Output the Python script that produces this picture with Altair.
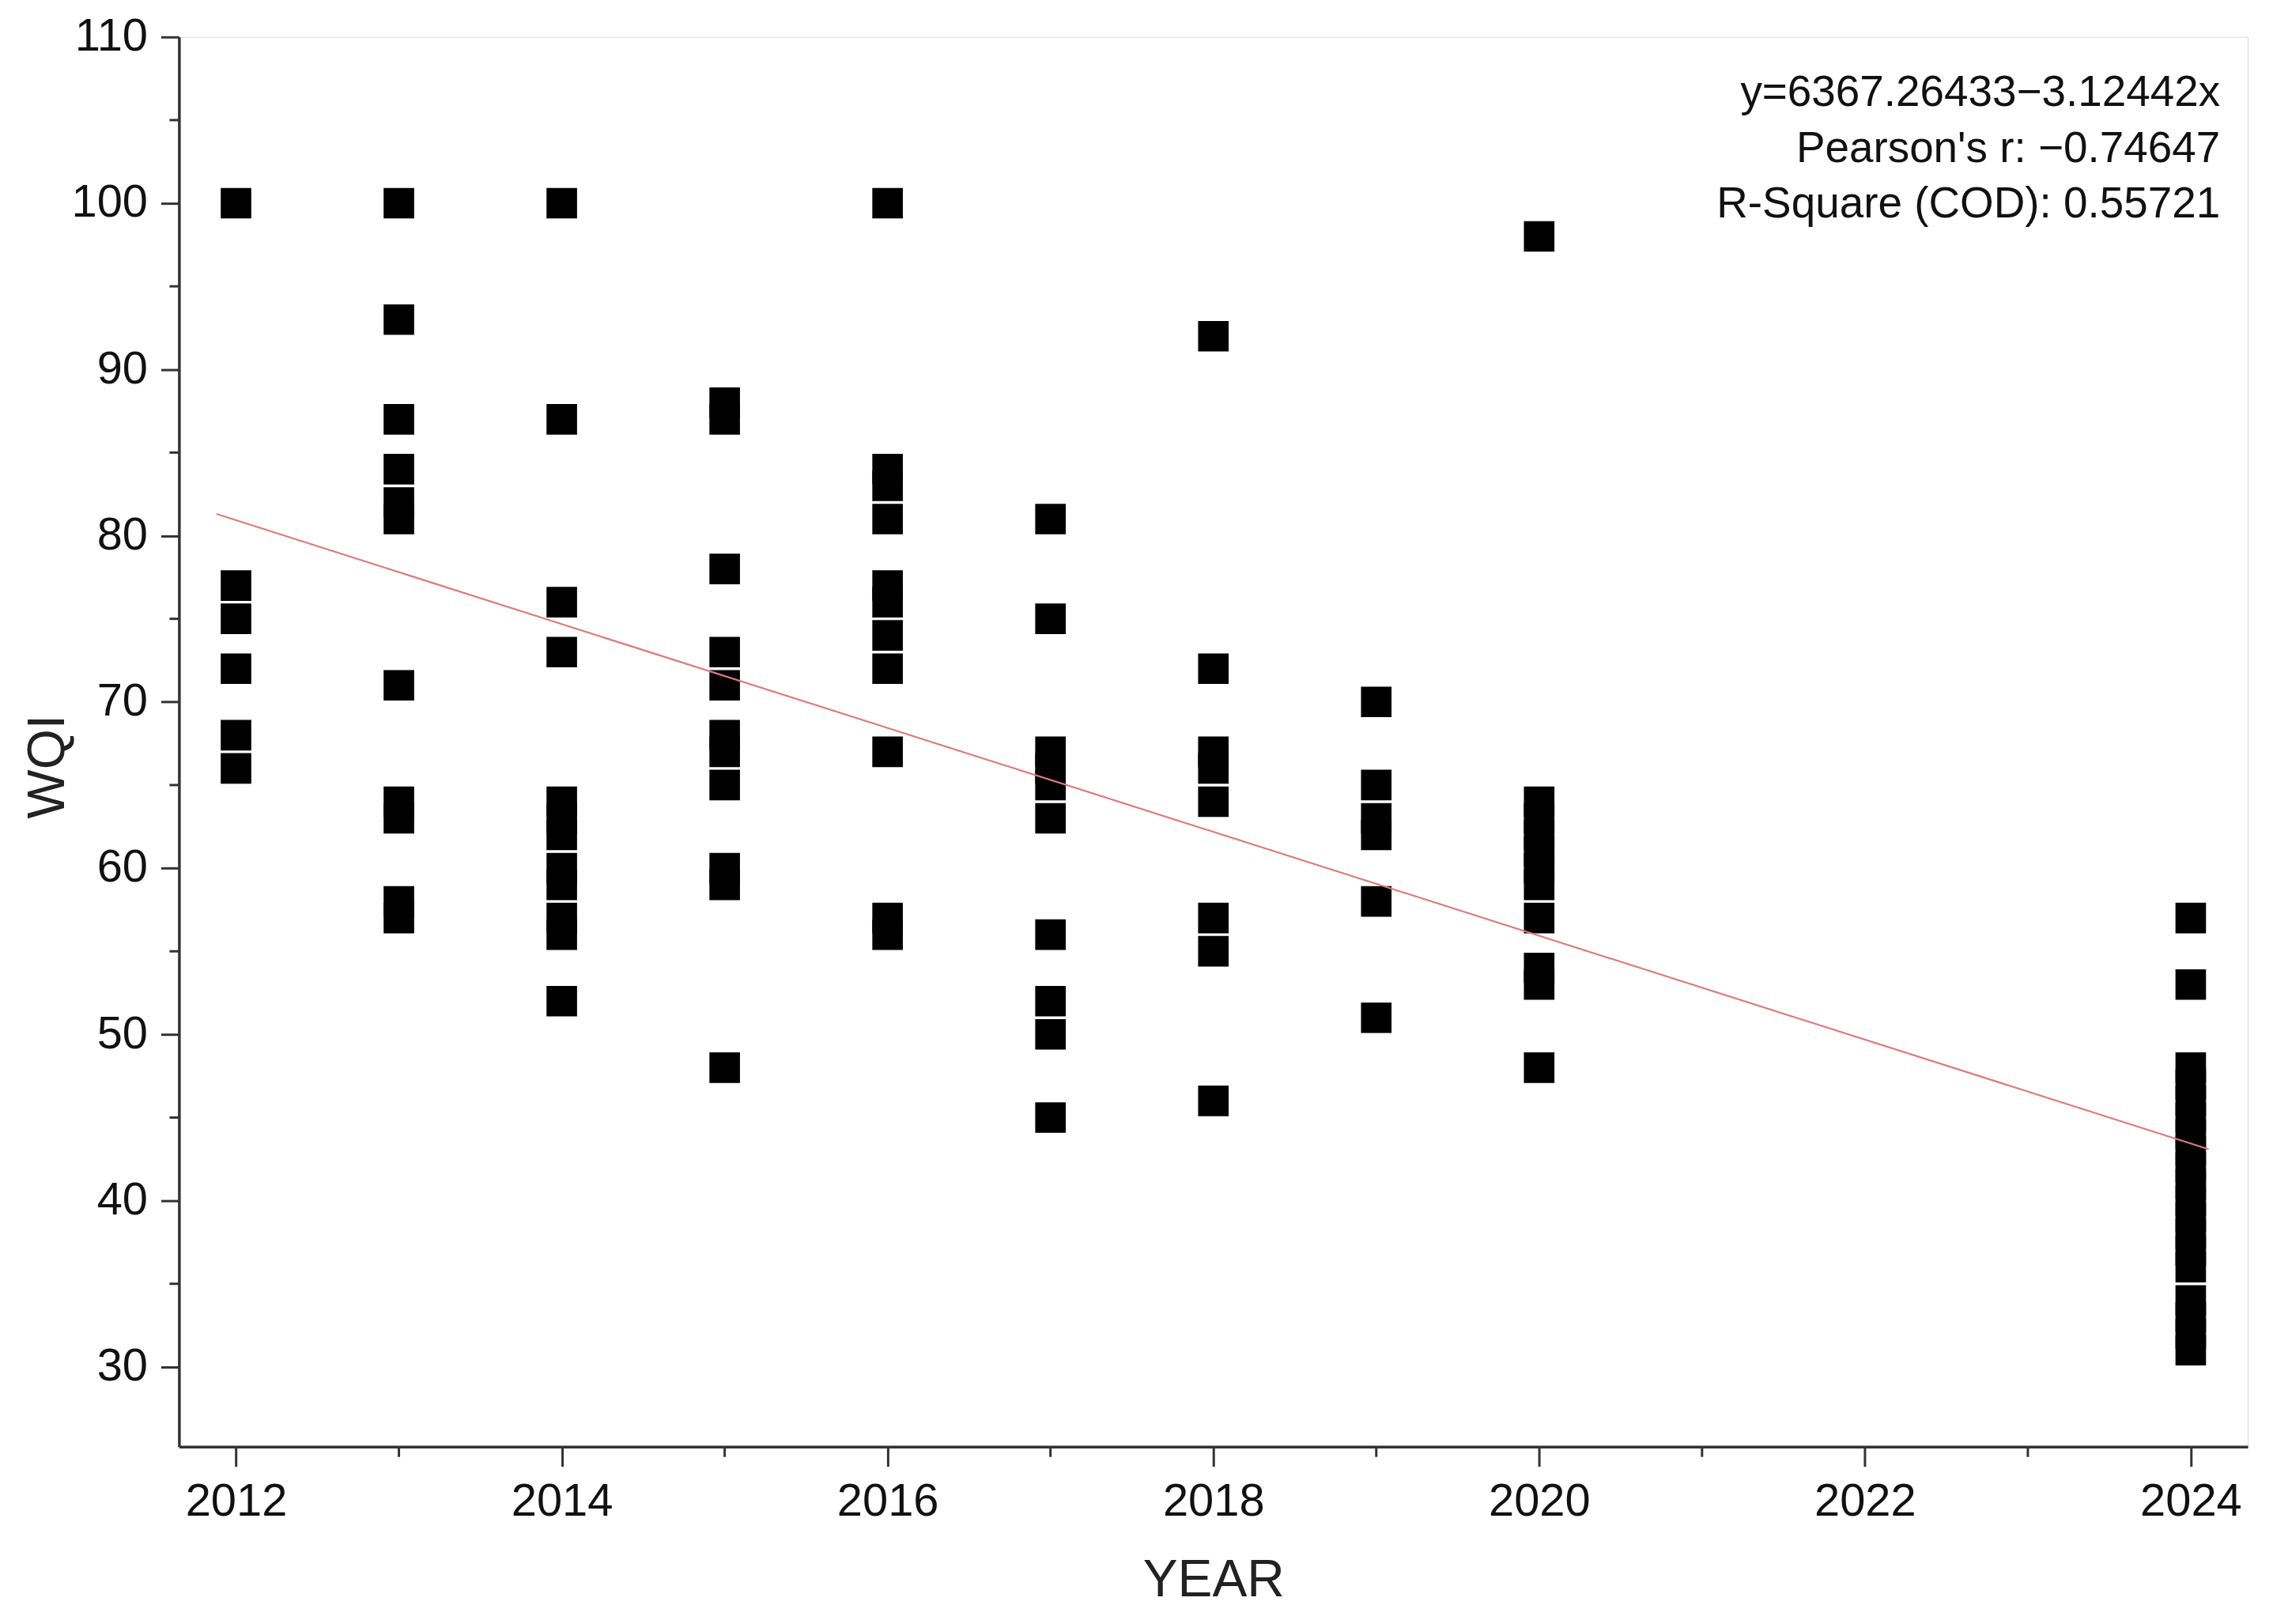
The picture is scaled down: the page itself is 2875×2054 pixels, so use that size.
import altair as alt
import pandas as pd

# ---- data ----
years = [2012, 2013, 2014, 2015, 2016, 2017, 2018, 2019, 2020, 2024]
wqi_2012 = [100, 77, 75, 72, 68, 66]
wqi_2013 = [100, 93, 87, 84, 82, 81, 71, 64, 63, 58, 57]
wqi_2014 = [100, 87, 76, 73, 64, 63, 62, 60, 59, 57, 56, 52]
wqi_2015 = [88, 87, 78, 73, 71, 68, 67, 65, 60, 59, 48]
wqi_2016 = [100, 84, 83, 81, 77, 76, 74, 72, 67, 57, 56]
wqi_2017 = [81, 75, 67, 66, 65, 63, 56, 52, 50, 45]
wqi_2018 = [92, 72, 67, 66, 64, 57, 55, 46]
wqi_2019 = [70, 65, 63, 62, 58, 51]
wqi_2020 = [98, 64, 63, 62, 61, 60, 59, 57, 54, 53, 48]
wqi_2024 = [57, 53, 48, 47, 46, 45, 44, 43, 42, 41, 40, 39, 38, 37, 36, 34, 33, 32, 31]
wqi_by_year = [wqi_2012, wqi_2013, wqi_2014, wqi_2015, wqi_2016,
               wqi_2017, wqi_2018, wqi_2019, wqi_2020, wqi_2024]

fit_intercept = 6367.26433
fit_slope = -3.12442
fit_x = [2011.88, 2024.11]

x_major = [2012, 2014, 2016, 2018, 2020, 2022, 2024]
x_minor = [2013, 2015, 2017, 2019, 2021, 2023]
y_major = [30, 40, 50, 60, 70, 80, 90, 100, 110]
y_minor = [35, 45, 55, 65, 75, 85, 95, 105]

annot_lines = ["y=6367.26433\u22123.12442x",
               "Pearson's r: \u22120.74647",
               "R-Square (COD): 0.55721"]

# ---- tables ----
rows = []
for yr, vals in zip(years, wqi_by_year):
    for v in vals:
        rows.append({"YEAR": yr, "WQI": v})
pts = pd.DataFrame(rows)
fit = pd.DataFrame({"YEAR": fit_x,
                    "WQI": [fit_intercept + fit_slope * x for x in fit_x]})
xminor = pd.DataFrame({"YEAR": x_minor})
yminor = pd.DataFrame({"WQI": y_minor})

W, H = 2624, 1788
FONT = "Liberation Sans"
AX = "#333333"

xscale = alt.Scale(domain=[2011.65, 2024.35], nice=False, zero=False)
yscale = alt.Scale(domain=[25.2, 110], nice=False, zero=False)

xaxis = alt.Axis(values=x_major, format="d", grid=False, tickSize=25, tickWidth=3,
                 tickColor=AX, domainColor=AX, domainWidth=3.5,
                 labelFontSize=58, labelFont=FONT, labelColor="#111", labelPadding=16,
                 title="YEAR", titleFont=FONT, titleFontSize=66, titleFontWeight="normal",
                 titleColor="#222", titleBaseline="alphabetic", titleY=189)
yaxis = alt.Axis(values=y_major, grid=False, tickSize=23, tickWidth=3,
                 tickColor=AX, domainColor=AX, domainWidth=3.5,
                 labelFontSize=58, labelFont=FONT, labelColor="#111", labelPadding=17,
                 title="WQI", titleFont=FONT, titleFontSize=66, titleFontWeight="normal",
                 titleColor="#222", titleBaseline="alphabetic", titleX=-146, titleY=925,
                 titleAlign="center", titleAngle=270)

points = alt.Chart(pts).mark_point(shape="square", filled=True, size=1500,
                                   color="black", opacity=1, strokeWidth=0).encode(
    x=alt.X("YEAR:Q", scale=xscale, axis=xaxis),
    y=alt.Y("WQI:Q", scale=yscale, axis=yaxis),
)

line = alt.Chart(fit).mark_line(color="#DE7B7B", strokeWidth=2.2).encode(
    x=alt.X("YEAR:Q", scale=xscale),
    y=alt.Y("WQI:Q", scale=yscale),
)

xmin_ticks = alt.Chart(xminor).mark_rule(color=AX, strokeWidth=3).encode(
    x=alt.X("YEAR:Q", scale=xscale),
    y=alt.value(H),
    y2=alt.value(H + 13),
)
ymin_ticks = alt.Chart(yminor).mark_rule(color=AX, strokeWidth=3).encode(
    y=alt.Y("WQI:Q", scale=yscale),
    x=alt.value(0),
    x2=alt.value(-12),
)

annot = pd.DataFrame({"t": annot_lines, "py": [88, 158.6, 229]})
text = alt.Chart(annot).mark_text(align="right", baseline="alphabetic",
                                  fontSize=55, font=FONT, color="#111").encode(
    x=alt.value(2589),
    y=alt.Y("py:Q", scale=None),
    text="t:N",
)

chart = alt.layer(points, line, xmin_ticks, ymin_ticks, text).properties(
    width=W, height=H,
    padding={"left": 219, "top": 36, "right": 24, "bottom": 214},
    autosize=alt.AutoSizeParams(type="none"),
).configure_view(stroke="#555555", strokeWidth=3).configure(background="white")

chart.save("out.html", embed_options={"renderer": "svg", "actions": False})
